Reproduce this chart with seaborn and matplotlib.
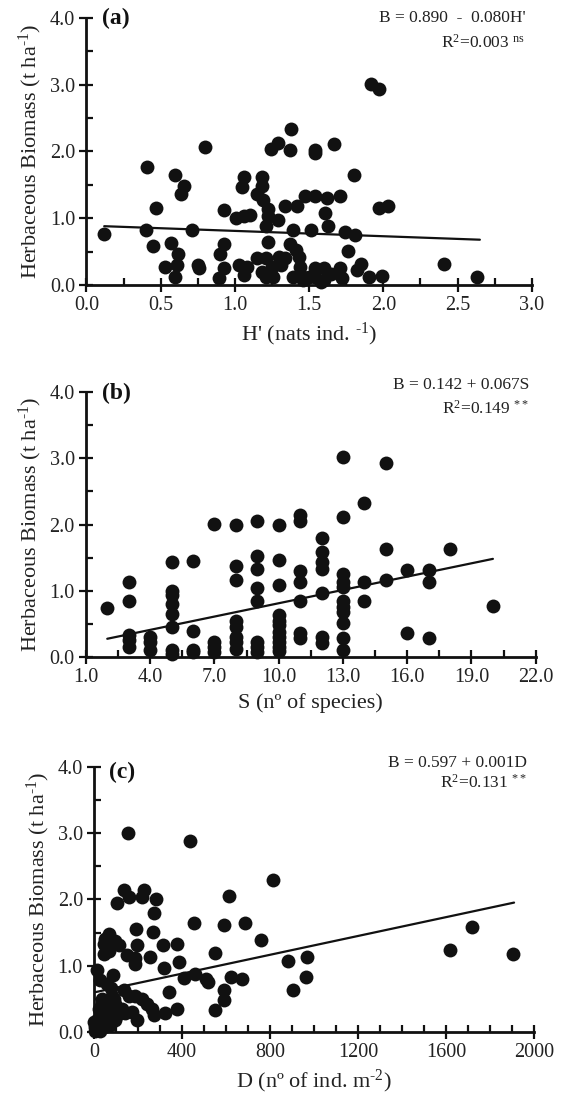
import numpy as np
import pandas as pd
import matplotlib
matplotlib.use("Agg")
import matplotlib.pyplot as plt
from matplotlib.ticker import MultipleLocator, FormatStrFormatter
import seaborn as sns

# panel (a): Shannon diversity H' vs herbaceous biomass
h_div = [0.12, 0.40, 0.41, 0.45, 0.47, 0.53, 0.57, 0.60, 0.62, 0.61, 0.60, 0.64, 0.66, 0.71,
         0.75, 0.76, 0.80, 0.90, 0.93, 0.895, 0.925, 0.93, 1.01, 1.06, 1.10, 1.06, 1.05, 1.03,
         1.08, 1.06, 1.15, 1.18, 1.18, 1.15, 1.19, 1.22, 1.22, 1.21, 1.29, 1.22, 1.21, 1.18,
         1.21, 1.26, 1.25, 1.30, 1.31, 1.34, 1.24, 1.29, 1.38, 1.37, 1.34, 1.42, 1.47, 1.39,
         1.37, 1.41, 1.43, 1.44, 1.39, 1.46, 1.46, 1.50, 1.51, 1.54, 1.54, 1.54, 1.54, 1.54,
         1.60, 1.60, 1.58, 1.62, 1.61, 1.63, 1.65, 1.67, 1.71, 1.71, 1.72, 1.74, 1.76, 1.80,
         1.81, 1.82, 1.85, 1.90, 1.92, 1.97, 1.97, 2.03, 1.99, 2.41, 2.63]
h_bio = [0.77, 0.83, 1.76, 0.59, 1.15, 0.27, 0.63, 1.65, 0.46, 0.30, 0.12, 1.37, 1.49, 0.82,
         0.30, 0.25, 2.06, 0.47, 0.62, 0.10, 0.25, 1.12, 1.00, 1.04, 1.05, 1.62, 1.47, 0.30,
         0.27, 0.15, 0.40, 1.62, 1.49, 1.37, 1.27, 1.14, 1.04, 0.89, 0.97, 0.64, 0.40, 0.20,
         0.12, 0.12, 0.27, 0.42, 0.30, 0.40, 2.04, 2.13, 2.34, 2.02, 1.19, 1.19, 1.33, 0.83,
         0.62, 0.52, 0.42, 0.27, 0.12, 0.12, 0.07, 0.12, 0.82, 2.02, 1.98, 1.33, 0.25, 0.12,
         0.25, 0.07, 0.04, 1.31, 1.08, 0.88, 0.17, 2.11, 1.33, 0.25, 0.10, 0.80, 0.51, 1.65,
         0.75, 0.22, 0.32, 0.12, 3.01, 2.94, 1.16, 1.18, 0.14, 0.32, 0.12]

# panel (b): species richness S
s_rich = ([2] + [3] * 5 + [4] * 3 + [5] * 8 + [6] * 4 + [7] * 4 + [8] * 8 + [9] * 8 + [10] * 11
          + [11] * 7 + [12] * 7 + [13] * 11 + [14] * 3 + [15] * 3 + [16] * 2 + [17] * 3 + [18] + [20])
s_bio = [0.74,
         1.13, 0.84, 0.33, 0.25, 0.15,
         0.30, 0.22, 0.10,
         1.43, 1.00, 0.93, 0.80, 0.65, 0.45, 0.10, 0.04,
         1.45, 0.39, 0.11, 0.07,
         2.01, 0.22, 0.15, 0.07,
         1.99, 1.38, 1.17, 0.55, 0.45, 0.30, 0.22, 0.12,
         2.05, 1.52, 1.33, 1.04, 0.85, 0.22, 0.15, 0.07,
         2.00, 1.47, 1.09, 0.63, 0.55, 0.48, 0.38, 0.30, 0.22, 0.15, 0.09,
         2.14, 2.05, 1.30, 1.14, 0.84, 0.36, 0.29,
         1.79, 1.58, 1.43, 1.33, 0.97, 0.30, 0.21,
         3.02, 2.11, 1.25, 1.13, 1.05, 0.85, 0.76, 0.68, 0.51, 0.29, 0.11,
         2.32, 1.13, 0.85,
         2.93, 1.63, 1.17,
         1.32, 0.36,
         1.32, 1.14, 0.29,
         1.63,
         0.77]

# panel (c): density D
d_dens = [155, 436, 815, 612, 135, 158, 226, 218, 282, 105, 271, 453, 589, 685, 761, 192, 270,
          67, 52, 44, 97, 112, 195, 312, 377, 44, 67, 150, 185, 188, 256, 317, 385, 549, 14, 29,
          59, 85, 408, 460, 509, 518, 623, 673, 589, 589, 551, 342, 377, 324, 271, 195, 173, 241,
          264, 188, 218, 135, 158, 82, 78, 97, 127, 142, 6, 14, 29, 36, 52, 59, 74, 89, 105, 120,
          44, 74, 97, 21, 52, 6, 29, 0, 67, 89, 36, 36, 883, 967, 965, 906, 1618, 1717, 1905]
d_bio = [3.00, 2.89, 2.30, 2.06, 2.14, 2.04, 2.14, 2.04, 2.01, 1.95, 1.79, 1.64, 1.62, 1.65, 1.39,
         1.56, 1.51, 1.48, 1.41, 1.33, 1.38, 1.31, 1.32, 1.32, 1.33, 1.17, 1.23, 1.16, 1.11, 1.02,
         1.13, 0.97, 1.05, 1.19, 0.93, 0.78, 0.73, 0.86, 0.82, 0.88, 0.80, 0.75, 0.83, 0.80, 0.63,
         0.48, 0.33, 0.60, 0.35, 0.29, 0.25, 0.18, 0.30, 0.43, 0.35, 0.55, 0.50, 0.63, 0.55, 0.55,
         0.67, 0.43, 0.35, 0.28, 0.07, 0.18, 0.13, 0.23, 0.18, 0.28, 0.23, 0.30, 0.25, 0.28, 0.07,
         0.10, 0.18, 0.35, 0.40, 0.02, 0.02, 0.15, 0.48, 0.50, 0.50, 0.43, 1.07, 1.13, 0.83, 0.64,
         1.24, 1.59, 1.18]

# regression lines (intercept, slope) and x-extent
fit_a, span_a = (0.890, -0.080), (0.12, 2.65)
fit_b, span_b = (0.142, 0.067), (2, 20)
fit_c, span_c = (0.597, 0.00071), (0, 1910)

sns.set_style("ticks")
plt.rcParams['font.family'] = ['Liberation Serif', 'DejaVu Serif']
plt.rcParams['mathtext.fontset'] = 'custom'
plt.rcParams['mathtext.rm'] = 'Liberation Serif'
plt.rcParams['mathtext.it'] = 'Liberation Serif:italic'
plt.rcParams['mathtext.bf'] = 'Liberation Serif:bold'

ink = '#111111'
txt = '#222222'
fig = plt.figure(figsize=(5.61, 10.96), dpi=100)

panels = [
    dict(rect=[0.154, 0.740, 0.794, 0.2436], x=h_div, y=h_bio, fit=fit_a, span=span_a,
         xlim=(0, 3), major=0.5, minor=0.25, offset=0, fmt='%.1f',
         xlabel="H' (nats ind. $^{\u20101}$)", tag='(a)',
         eq="B = 0.890  -  0.080H'", r2=r"R$^2$=0.003 $^{\mathrm{ns}}$",
         tag_y=1.0, eq_y=1.0, r2_y=0.906),
    dict(rect=[0.153, 0.4005, 0.802, 0.2418], x=s_rich, y=s_bio, fit=fit_b, span=span_b,
         xlim=(1, 22), major=3, minor=1.5, offset=1, fmt='%.1f',
         xlabel="S (nº of species)", tag='(b)',
         eq="B = 0.142 + 0.067S", r2=r"R$^2$=0.149 $^{**}$",
         tag_y=0.996, eq_y=1.026, r2_y=0.936),
    dict(rect=[0.1676, 0.0584, 0.784, 0.2418], x=d_dens, y=d_bio, fit=fit_c, span=span_c,
         xlim=(0, 2000), major=400, minor=100, offset=0, fmt='%d',
         xlabel="D (nº of ind. m$^{\u20102}$)", tag='(c)',
         eq="B = 0.597 + 0.001D", r2=r"R$^2$=0.131 $^{**}$",
         tag_y=0.98, eq_y=1.014, r2_y=0.942),
]

for p in panels:
    ax = fig.add_axes(p['rect'])
    df = pd.DataFrame({'x': p['x'], 'y': p['y']})
    sns.scatterplot(data=df, x='x', y='y', ax=ax, s=100, color=ink, linewidth=0,
                    clip_on=False, zorder=3)
    lx = np.array(p['span'], dtype=float)
    line = pd.DataFrame({'x': lx, 'y': p['fit'][0] + p['fit'][1] * lx})
    sns.lineplot(data=line, x='x', y='y', ax=ax, color=ink, linewidth=1.6, zorder=4)

    ax.set_xlim(*p['xlim'])
    ax.set_ylim(0, 4)
    ax.xaxis.set_major_locator(MultipleLocator(p['major'], offset=p['offset']))
    ax.xaxis.set_minor_locator(MultipleLocator(p['minor'], offset=p['offset']))
    ax.xaxis.set_major_formatter(FormatStrFormatter(p['fmt']))
    ax.yaxis.set_major_locator(MultipleLocator(1.0))
    ax.yaxis.set_minor_locator(MultipleLocator(0.5))
    ax.yaxis.set_major_formatter(FormatStrFormatter('%.1f'))
    ax.tick_params(which='major', direction='inout', length=10, width=1.6,
                   labelsize=14.5, color=ink, labelcolor=txt, pad=3)
    ax.tick_params(which='minor', direction='in', length=5, width=1.6, color=ink)
    for side in ['top', 'right']:
        ax.spines[side].set_visible(False)
    for side in ['left', 'bottom']:
        ax.spines[side].set_linewidth(2)
        ax.spines[side].set_color(ink)

    ax.set_xlabel(p['xlabel'], fontsize=16, color=txt, labelpad=4)
    ax.set_ylabel('Herbaceous Biomass (t ha$^{\u20101}$)', fontsize=16, color=txt, labelpad=4)

    ax.text(0.035, p['tag_y'], p['tag'], transform=ax.transAxes, fontsize=17,
            fontweight='bold', ha='left', va='center', color=ink)
    ax.text(0.985, p['eq_y'], p['eq'], transform=ax.transAxes, fontsize=12.5,
            ha='right', va='center', color=txt)
    ax.text(0.985, p['r2_y'], p['r2'], transform=ax.transAxes, fontsize=12.5,
            ha='right', va='center', color=txt)

fig.savefig('out.png', dpi=100)
